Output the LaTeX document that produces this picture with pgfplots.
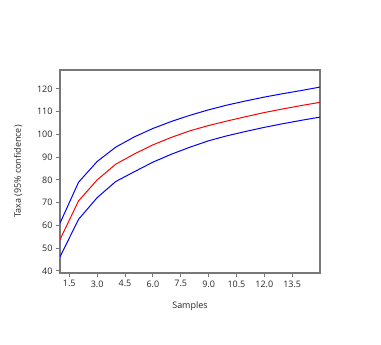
\documentclass[border=0pt]{standalone}
\usepackage{pgfplots}
\pgfplotsset{compat=1.18}
\usepackage{fontspec}
\setmainfont{Open Sans}
\definecolor{frame}{RGB}{120,120,120}
\begin{document}
\begin{tikzpicture}[x=1bp,y=1bp]
\useasboundingbox (0,0) rectangle (381,345);
\begin{axis}[
  at={(60bp,72bp)}, anchor=south west,
  scale only axis, width=260bp, height=203bp,
  xmin=1, xmax=15, ymin=39.1, ymax=128.3,
  xtick={1.5,3,4.5,6,7.5,9,10.5,12,13.5},
  ytick={40,50,...,120},
  xticklabel style={/pgf/number format/.cd,fixed,fixed zerofill,precision=1},
  /pgf/number format/assume math mode=true,
  tick label style={font=\fontsize{9}{10}\selectfont, text=black!85},
  label style={font=\fontsize{9}{10}\selectfont, text=black!85},
  xlabel={Samples}, ylabel={Taxa (95\% confidence)},
  xlabel style={yshift=-8bp},
  ylabel style={yshift=8bp},
  axis line style={frame, line width=1.4bp},
  tick style={frame, line width=1bp},
  tick align=outside, major tick length=4bp,
  xtick pos=bottom, ytick pos=left,
  clip=true,
]
\addplot[blue, line width=1bp] coordinates {
(1,61.0)(2,79.0)(3,88.1)(4,94.4)(5,98.9)(6,102.6)(7,105.7)(8,108.4)(9,110.8)(10,112.9)(11,114.7)(12,116.4)(13,117.9)(14,119.3)(15,120.8)};
\addplot[red, line width=1bp] coordinates {
(1,53.8)(2,70.8)(3,80.0)(4,86.9)(5,91.4)(6,95.4)(7,98.7)(8,101.6)(9,103.9)(10,105.9)(11,107.8)(12,109.6)(13,111.2)(14,112.7)(15,114.1)};
\addplot[blue, line width=1bp] coordinates {
(1,46.2)(2,62.7)(3,72.2)(4,79.3)(5,83.6)(6,87.8)(7,91.3)(8,94.4)(9,97.2)(10,99.4)(11,101.3)(12,103.1)(13,104.7)(14,106.2)(15,107.6)};
\end{axis}
\end{tikzpicture}
\end{document}
